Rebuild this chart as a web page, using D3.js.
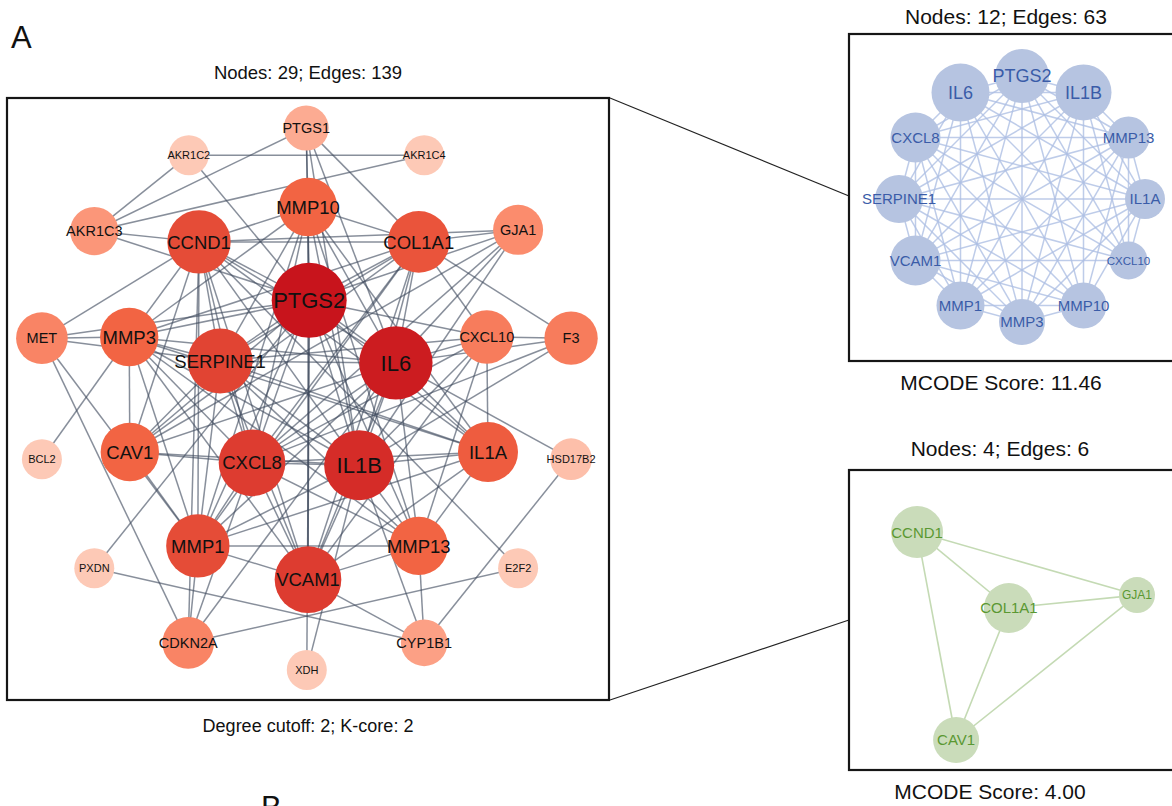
<!DOCTYPE html>
<html>
<head>
<meta charset="utf-8">
<script src="https://cdn.jsdelivr.net/npm/d3@7"></script>
<style>
  body { margin: 0; background: #fff; }
  svg { display: block; }
  text { font-family: "Liberation Sans", Arial, Helvetica, sans-serif; }
</style>
</head>
<body>
<svg id="fig" width="1172" height="806"></svg>
<script>
// ---- PPI network: genes, layout (0-100 layout units) and degree weighting ----
const genes   = ["PTGS1","AKR1C2","AKR1C4","MMP10","AKR1C3","CCND1","COL1A1","GJA1","PTGS2","MET",
                 "MMP3","SERPINE1","IL6","CXCL10","F3","BCL2","CAV1","CXCL8","IL1B","IL1A",
                 "HSD17B2","MMP1","VCAM1","MMP13","PXDN","E2F2","CDKN2A","CYP1B1","XDH"];
const layoutU = [49.7, 30.2, 69.3, 50.0, 14.5, 31.9, 68.4, 84.9, 50.2, 5.8,
                 20.3, 35.4, 64.6, 79.7, 93.7, 5.8, 20.4, 40.7, 58.5, 79.9,
                 93.7, 31.7, 50.0, 68.4, 14.5, 84.9, 30.1, 69.3, 49.8];
const layoutV = [5.0, 9.5, 9.5, 18.1, 22.1, 23.9, 23.9, 21.9, 33.6, 39.9,
                 39.7, 43.7, 44.0, 39.7, 39.9, 60.0, 58.8, 60.6, 61.0, 58.8,
                 60.0, 74.4, 80.0, 74.4, 78.1, 78.1, 90.5, 90.5, 95.0];
const degree  = [5, 2, 2, 13, 7, 16, 15, 8, 23, 9,
                 13, 17, 22, 10, 10, 2, 13, 18, 20, 14,
                 3, 16, 18, 13, 2, 2, 9, 6, 2];

// ---- interactions (139) ----
const edges = [
  ["PTGS2","IL6"],["PTGS2","IL1B"],["PTGS2","CXCL8"],["PTGS2","SERPINE1"],["PTGS2","VCAM1"],["PTGS2","MMP1"],
  ["PTGS2","MMP3"],["PTGS2","MMP10"],["PTGS2","MMP13"],["PTGS2","IL1A"],["PTGS2","CXCL10"],
  ["IL6","IL1B"],["IL6","CXCL8"],["IL6","SERPINE1"],["IL6","VCAM1"],["IL6","MMP1"],["IL6","MMP3"],
  ["IL6","MMP10"],["IL6","MMP13"],["IL6","IL1A"],["IL6","CXCL10"],
  ["IL1B","CXCL8"],["IL1B","SERPINE1"],["IL1B","VCAM1"],["IL1B","MMP1"],["IL1B","MMP3"],["IL1B","MMP10"],
  ["IL1B","MMP13"],["IL1B","IL1A"],["IL1B","CXCL10"],
  ["CXCL8","SERPINE1"],["CXCL8","VCAM1"],["CXCL8","MMP1"],["CXCL8","MMP3"],["CXCL8","MMP10"],["CXCL8","MMP13"],
  ["CXCL8","IL1A"],["CXCL8","CXCL10"],
  ["SERPINE1","VCAM1"],["SERPINE1","MMP1"],["SERPINE1","MMP3"],["SERPINE1","MMP10"],["SERPINE1","MMP13"],
  ["SERPINE1","IL1A"],["SERPINE1","CXCL10"],
  ["VCAM1","MMP1"],["VCAM1","MMP3"],["VCAM1","MMP10"],["VCAM1","MMP13"],["VCAM1","IL1A"],["VCAM1","CXCL10"],
  ["MMP1","MMP3"],["MMP1","MMP10"],["MMP1","MMP13"],["MMP1","IL1A"],
  ["MMP3","MMP10"],["MMP3","MMP13"],["MMP3","IL1A"],
  ["MMP10","MMP13"],["MMP10","IL1A"],
  ["MMP13","IL1A"],["MMP13","CXCL10"],
  ["IL1A","CXCL10"],
  ["CCND1","COL1A1"],["CCND1","GJA1"],["CCND1","CAV1"],["COL1A1","GJA1"],["COL1A1","CAV1"],["GJA1","CAV1"],
  ["CCND1","PTGS2"],["CCND1","IL6"],["CCND1","IL1B"],["CCND1","CXCL8"],["CCND1","SERPINE1"],["CCND1","VCAM1"],
  ["CCND1","MMP1"],["CCND1","MMP3"],["CCND1","MMP10"],["CCND1","IL1A"],
  ["COL1A1","PTGS2"],["COL1A1","IL6"],["COL1A1","IL1B"],["COL1A1","CXCL8"],["COL1A1","SERPINE1"],["COL1A1","VCAM1"],
  ["COL1A1","MMP1"],["COL1A1","MMP3"],["COL1A1","MMP10"],["COL1A1","CXCL10"],
  ["CAV1","PTGS2"],["CAV1","IL6"],["CAV1","IL1B"],["CAV1","CXCL8"],["CAV1","SERPINE1"],["CAV1","MMP1"],["CAV1","MMP3"],
  ["GJA1","PTGS2"],["GJA1","IL6"],["GJA1","IL1B"],["GJA1","CXCL8"],
  ["PTGS1","PTGS2"],["PTGS1","IL6"],["PTGS1","IL1B"],["PTGS1","MMP10"],["PTGS1","AKR1C3"],["PTGS1","COL1A1"],
  ["AKR1C2","AKR1C3"],["AKR1C2","AKR1C4"],["AKR1C2","PTGS2"],
  ["AKR1C4","AKR1C3"],
  ["AKR1C3","PTGS2"],["AKR1C3","CCND1"],
  ["MET","CCND1"],["MET","MMP3"],["MET","SERPINE1"],["MET","PTGS2"],["MET","MMP1"],["MET","CDKN2A"],
  ["F3","COL1A1"],["F3","CXCL10"],["F3","IL6"],["F3","IL1B"],["F3","CXCL8"],
  ["BCL2","MMP3"],
  ["HSD17B2","CYP1B1"],["HSD17B2","IL6"],
  ["PXDN","PTGS2"],["PXDN","CYP1B1"],
  ["E2F2","CDKN2A"],["E2F2","CCND1"],
  ["CDKN2A","MMP1"],["CDKN2A","CCND1"],["CDKN2A","IL6"],["CDKN2A","CXCL8"],
  ["CYP1B1","MMP13"],["CYP1B1","IL1B"],["CYP1B1","VCAM1"],
  ["XDH","PTGS2"],["XDH","IL1B"]
];

// ---- MCODE module 1 (circle order, clockwise from top) ----
const module1 = ["PTGS2","IL1B","MMP13","IL1A","CXCL10","MMP10","MMP3","MMP1","VCAM1","SERPINE1","CXCL8","IL6"];
const module1Score = [8, 9, 2, 1, 0, 4, 4, 5, 6, 5, 6, 10];

// ---- MCODE module 2 ----
const module2 = ["CCND1","COL1A1","GJA1","CAV1"];
const module2U = [22.7, 53.3, 96.0, 35.7];
const module2V = [20.7, 46.0, 41.7, 90.0];
const module2Score = [8, 7, 0, 5];

// ---- text ----
const panelLabels = ["A", "B"];
const mainTitle = "Nodes: 29; Edges: 139";
const mainFooter = "Degree cutoff: 2; K-core: 2";
const module1Title = "Nodes: 12; Edges: 63";
const module1Footer = "MCODE Score: 11.46";
const module2Title = "Nodes: 4; Edges: 6";
const module2Footer = "MCODE Score: 4.00";

// =====================================================================
const svg = d3.select("#fig");

// main network panel
const main = { x0: 7, y0: 98, x1: 609, y1: 700 };
const xMain = d3.scaleLinear().domain([0, 100]).range([main.x0, main.x1]);
const yMain = d3.scaleLinear().domain([0, 100]).range([main.y0, main.y1]);
const rMain = d3.scaleLinear().domain([2, 23]).range([20, 37.5]);
const colorMain = d3.scaleLinear()
  .domain([2, 8, 13, 23])
  .range(["#fdc9b6", "#fb8c6d", "#f26443", "#c8141c"])
  .interpolate(d3.interpolateRgb);
const fontMain = d3.scaleThreshold().domain([4, 11, 20]).range([11, 14.5, 18.5, 22]);

const nodes = genes.map((g, i) => ({ id: g, u: layoutU[i], v: layoutV[i], deg: degree[i] }));
const byId = new Map(nodes.map(n => [n.id, n]));

// connector lines from the main panel to the module panels
const box1 = { x: 849, y: 34, w: 340, h: 327 };
const box2 = { x: 849, y: 470, w: 340, h: 300 };
svg.append("line").attr("x1", main.x1 + 1).attr("y1", main.y0).attr("x2", box1.x).attr("y2", 196)
  .attr("stroke", "#222").attr("stroke-width", 1.2);
svg.append("line").attr("x1", main.x1 + 1).attr("y1", main.y1).attr("x2", box2.x).attr("y2", 620)
  .attr("stroke", "#222").attr("stroke-width", 1.2);

const gMain = svg.append("g");
gMain.append("g").selectAll("line").data(edges).join("line")
  .attr("x1", d => xMain(byId.get(d[0]).u)).attr("y1", d => yMain(byId.get(d[0]).v))
  .attr("x2", d => xMain(byId.get(d[1]).u)).attr("y2", d => yMain(byId.get(d[1]).v))
  .attr("stroke", "#3f4a5e").attr("stroke-opacity", 0.62).attr("stroke-width", 1.5);

const nodeG = gMain.append("g").selectAll("g").data(nodes).join("g")
  .attr("transform", d => `translate(${xMain(d.u)},${yMain(d.v)})`);
nodeG.append("circle").attr("r", d => rMain(d.deg)).attr("fill", d => colorMain(d.deg));
nodeG.append("text").text(d => d.id)
  .attr("text-anchor", "middle").attr("dy", "0.36em")
  .attr("font-size", d => fontMain(d.deg)).attr("fill", "#111");

gMain.append("rect").attr("x", main.x0).attr("y", main.y0)
  .attr("width", main.x1 - main.x0).attr("height", main.y1 - main.y0)
  .attr("fill", "none").attr("stroke", "#161616").attr("stroke-width", 2.2);

svg.append("text").attr("x", (main.x0 + main.x1) / 2).attr("y", 79).attr("text-anchor", "middle")
  .attr("font-size", 18.5).attr("fill", "#111").text(mainTitle);
svg.append("text").attr("x", (main.x0 + main.x1) / 2).attr("y", 732).attr("text-anchor", "middle")
  .attr("font-size", 18).attr("fill", "#111").text(mainFooter);

svg.append("text").attr("x", 11).attr("y", 48).attr("font-size", 31).attr("fill", "#111").text(panelLabels[0]);
svg.append("text").attr("x", 261).attr("y", 818).attr("font-size", 31).attr("fill", "#111").text(panelLabels[1]);

// ---- module 1: circular layout ----
const c1 = { cx: 1022, cy: 199, R: 123 };
const angle = d3.scaleLinear().domain([0, module1.length]).range([-Math.PI / 2, 1.5 * Math.PI]);
const r1 = d3.scaleLinear().domain([0, 10]).range([19, 29]);
const font1 = d3.scaleThreshold().domain([1, 7]).range([11.5, 15, 18]);
const m1Nodes = module1.map((g, i) => ({
  id: g, s: module1Score[i],
  x: c1.cx + c1.R * Math.cos(angle(i)), y: c1.cy + c1.R * Math.sin(angle(i))
}));
const m1Pos = new Map(m1Nodes.map(n => [n.id, n]));
const m1Edges = edges.filter(e => m1Pos.has(e[0]) && m1Pos.has(e[1]));

const g1 = svg.append("g");
g1.append("g").selectAll("line").data(m1Edges).join("line")
  .attr("x1", d => m1Pos.get(d[0]).x).attr("y1", d => m1Pos.get(d[0]).y)
  .attr("x2", d => m1Pos.get(d[1]).x).attr("y2", d => m1Pos.get(d[1]).y)
  .attr("stroke", "#aebfe3").attr("stroke-opacity", 0.8).attr("stroke-width", 1.5);
const n1 = g1.append("g").selectAll("g").data(m1Nodes).join("g")
  .attr("transform", d => `translate(${d.x},${d.y})`);
n1.append("circle").attr("r", d => r1(d.s)).attr("fill", "#b6c4e1");
n1.append("text").text(d => d.id).attr("text-anchor", "middle").attr("dy", "0.36em")
  .attr("font-size", d => font1(d.s)).attr("fill", "#3a5ca8");
g1.append("rect").attr("x", box1.x).attr("y", box1.y).attr("width", box1.w).attr("height", box1.h)
  .attr("fill", "none").attr("stroke", "#161616").attr("stroke-width", 2.2);
svg.append("text").attr("x", 1006).attr("y", 24).attr("text-anchor", "middle")
  .attr("font-size", 21).attr("fill", "#111").text(module1Title);
svg.append("text").attr("x", 1001).attr("y", 390).attr("text-anchor", "middle")
  .attr("font-size", 21).attr("fill", "#111").text(module1Footer);

// ---- module 2 ----
const x2 = d3.scaleLinear().domain([0, 100]).range([box2.x, box2.x + 300]);
const y2 = d3.scaleLinear().domain([0, 100]).range([box2.y, box2.y + 300]);
const r2 = d3.scaleLinear().domain([0, 8]).range([18, 26]);
const font2 = d3.scaleThreshold().domain([2]).range([12, 15]);
const m2Nodes = module2.map((g, i) => ({ id: g, s: module2Score[i], x: x2(module2U[i]), y: y2(module2V[i]) }));
const m2Pos = new Map(m2Nodes.map(n => [n.id, n]));
const m2Edges = edges.filter(e => m2Pos.has(e[0]) && m2Pos.has(e[1]));

const g2 = svg.append("g");
g2.append("g").selectAll("line").data(m2Edges).join("line")
  .attr("x1", d => m2Pos.get(d[0]).x).attr("y1", d => m2Pos.get(d[0]).y)
  .attr("x2", d => m2Pos.get(d[1]).x).attr("y2", d => m2Pos.get(d[1]).y)
  .attr("stroke", "#c4dab4").attr("stroke-width", 1.6);
const n2 = g2.append("g").selectAll("g").data(m2Nodes).join("g")
  .attr("transform", d => `translate(${d.x},${d.y})`);
n2.append("circle").attr("r", d => r2(d.s)).attr("fill", "#cadcba");
n2.append("text").text(d => d.id).attr("text-anchor", "middle").attr("dy", "0.36em")
  .attr("font-size", d => font2(d.s)).attr("fill", "#5a9832");
g2.append("rect").attr("x", box2.x).attr("y", box2.y).attr("width", box2.w).attr("height", box2.h)
  .attr("fill", "none").attr("stroke", "#161616").attr("stroke-width", 2.2);
svg.append("text").attr("x", 1000).attr("y", 456).attr("text-anchor", "middle")
  .attr("font-size", 21).attr("fill", "#111").text(module2Title);
svg.append("text").attr("x", 990).attr("y", 799).attr("text-anchor", "middle")
  .attr("font-size", 21).attr("fill", "#111").text(module2Footer);
</script>
</body>
</html>
